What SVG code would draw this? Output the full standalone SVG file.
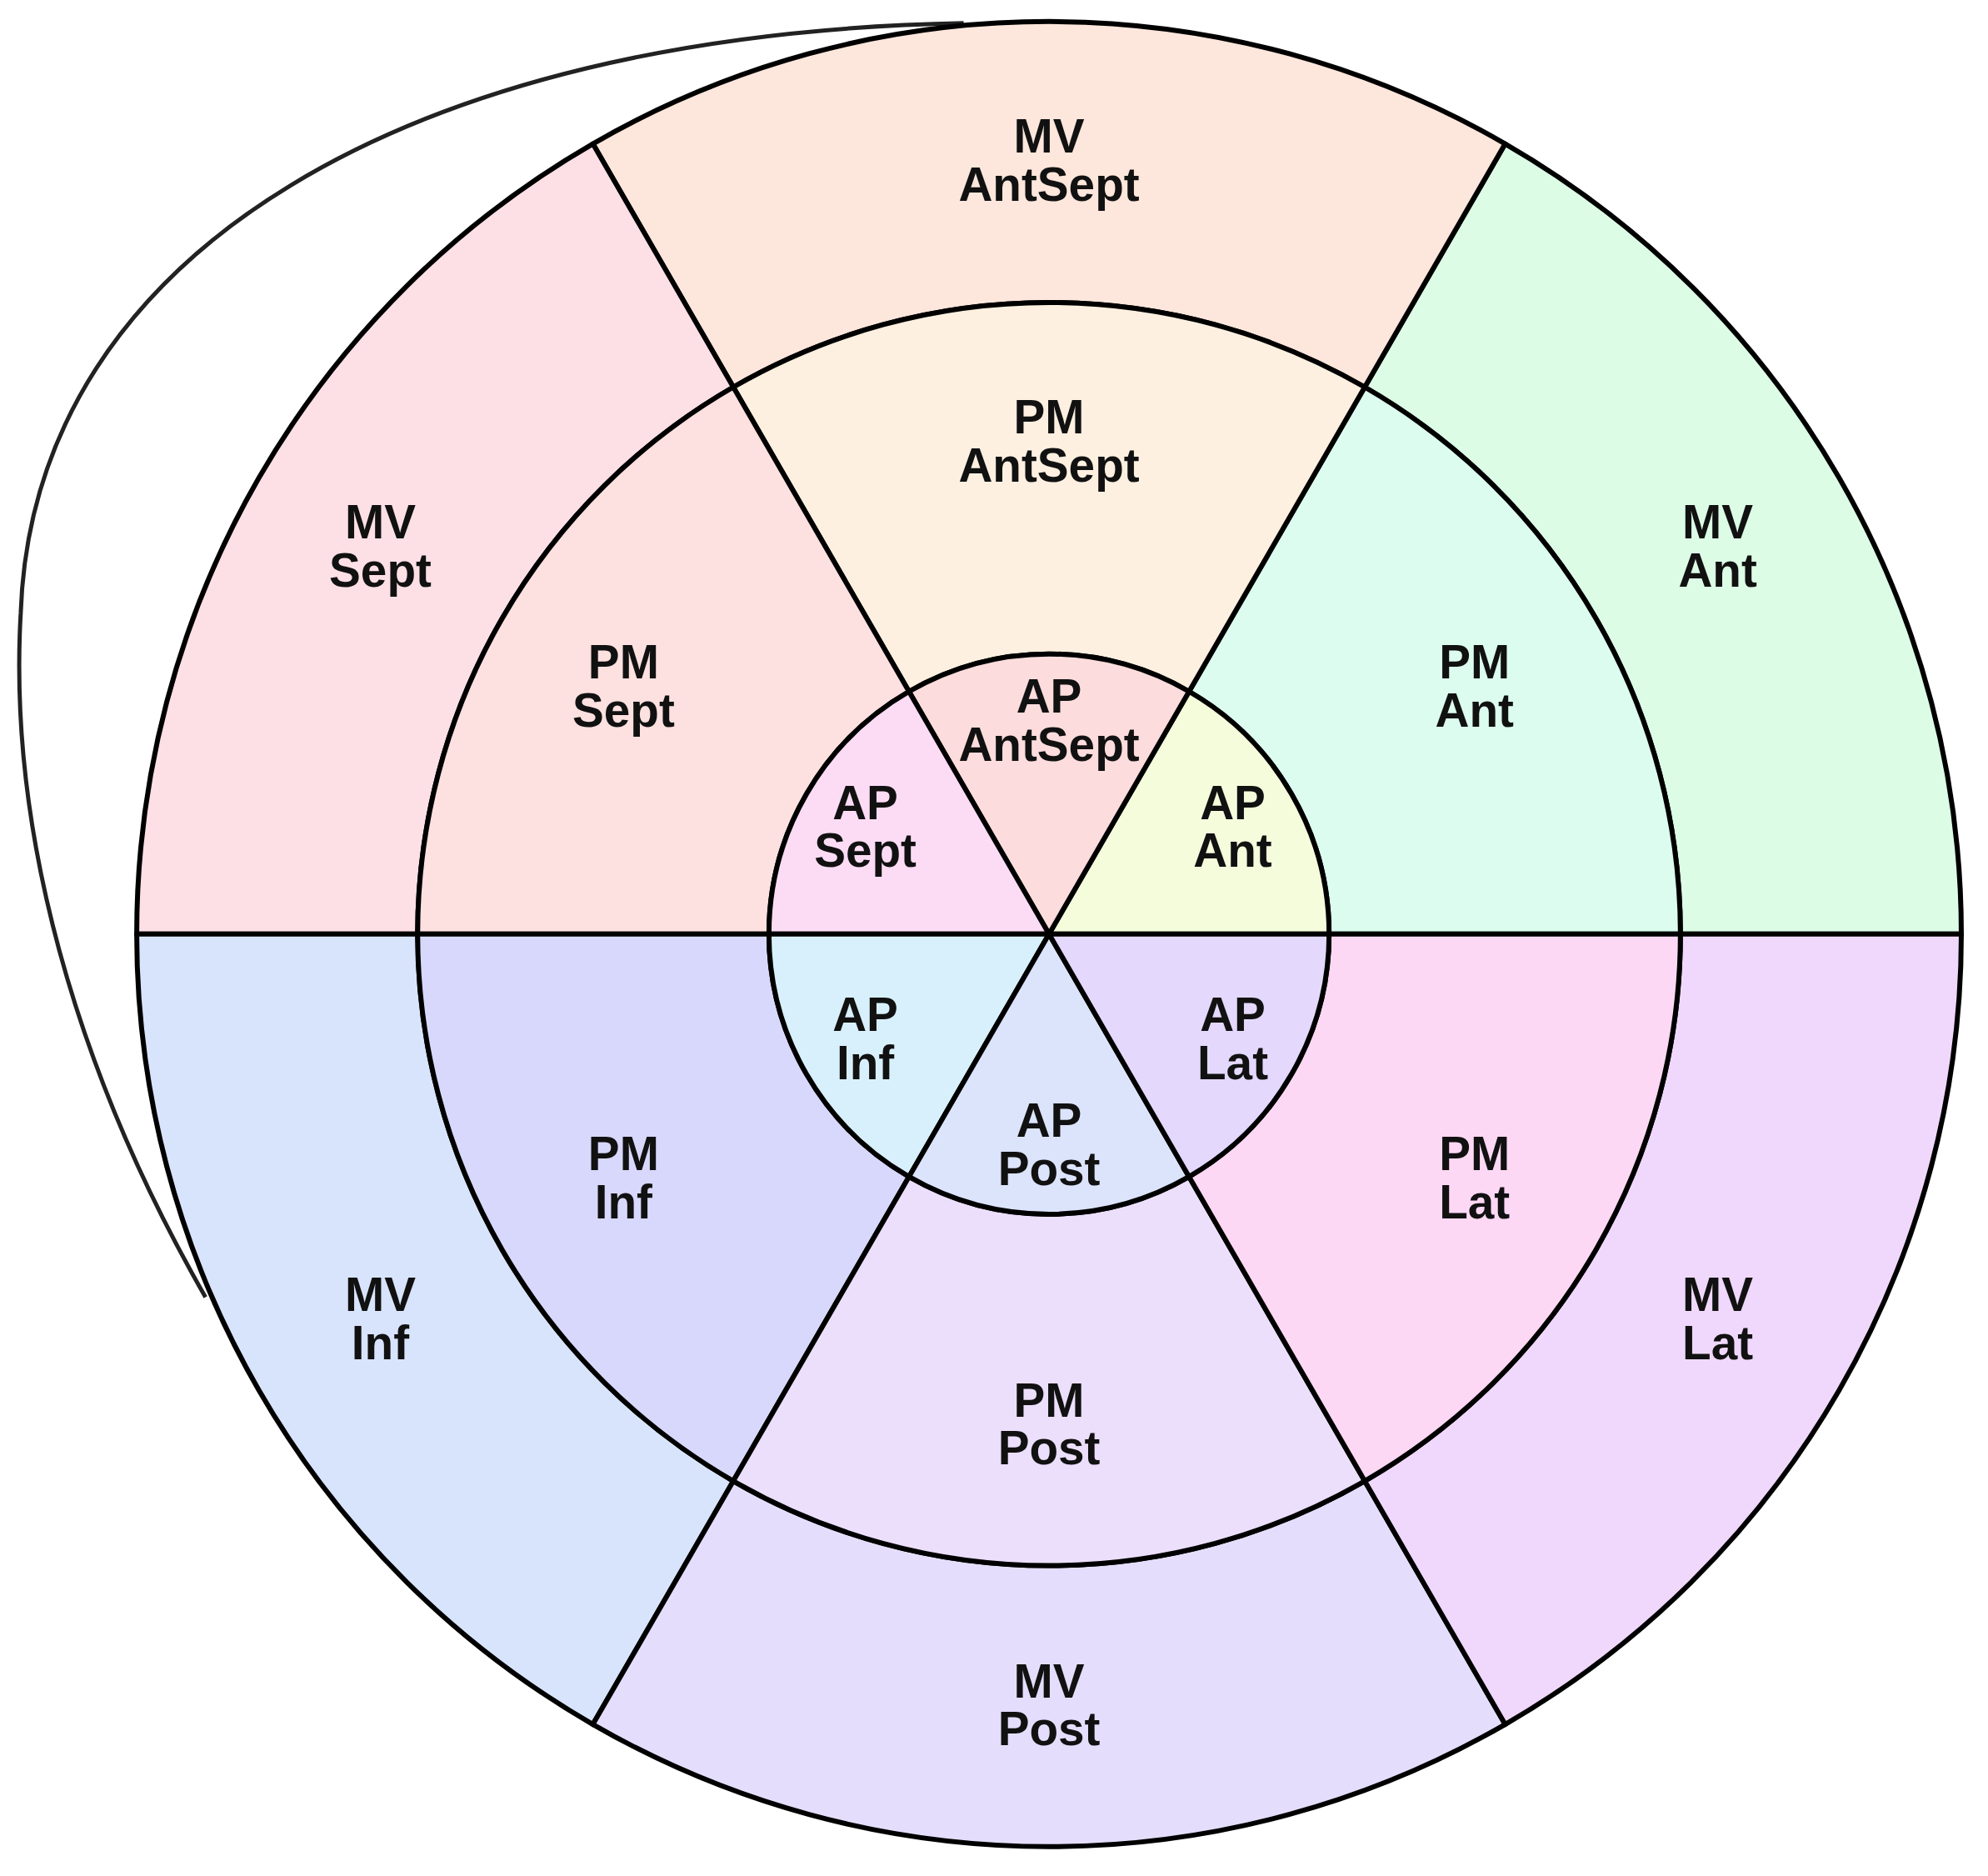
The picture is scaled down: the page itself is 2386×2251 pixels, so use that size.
<svg xmlns="http://www.w3.org/2000/svg" width="2386" height="2251" viewBox="0 0 2386 2251">
<style>
.s{stroke:#000;stroke-width:6;stroke-linejoin:round}
text{font-family:"Liberation Sans",Arial,sans-serif;font-weight:bold;font-size:57px;text-anchor:middle;fill:#111}
</style>
<rect width="2386" height="2251" fill="#fff"/>
<g transform="scale(0.9945)">
<g id="connectors">
<path d="M 248 1565 C 90 1290, 10 1000, 25 740 C 40 300, 500 40, 1163 28" fill="none" stroke="#222" stroke-width="5"/>
</g>
<g id="mv-ant"><path class="s" fill="#dcfce6" d="M2367 1127 A1101 1101 0 0 0 1816.5 173.5 L1647 467.1 A762 762 0 0 1 2028 1127 Z"/><text x="2073" y="650">MV<tspan x="2073" dy="58">Ant</tspan></text></g>
<g id="mv-antsept"><path class="s" fill="#fde6dc" d="M1816.5 173.5 A1101 1101 0 0 0 715.5 173.5 L885 467.1 A762 762 0 0 1 1647 467.1 Z"/><text x="1266" y="184">MV<tspan x="1266" dy="58">AntSept</tspan></text></g>
<g id="mv-sept"><path class="s" fill="#fde0e6" d="M715.5 173.5 A1101 1101 0 0 0 165 1127 L504 1127 A762 762 0 0 1 885 467.1 Z"/><text x="459" y="650">MV<tspan x="459" dy="58">Sept</tspan></text></g>
<g id="mv-inf"><path class="s" fill="#d8e4fc" d="M165 1127 A1101 1101 0 0 0 715.5 2080.5 L885 1786.9 A762 762 0 0 1 504 1127 Z"/><text x="459" y="1582">MV<tspan x="459" dy="58">Inf</tspan></text></g>
<g id="mv-post"><path class="s" fill="#e4defc" d="M715.5 2080.5 A1101 1101 0 0 0 1816.5 2080.5 L1647 1786.9 A762 762 0 0 1 885 1786.9 Z"/><text x="1266" y="2048">MV<tspan x="1266" dy="58">Post</tspan></text></g>
<g id="mv-lat"><path class="s" fill="#f0d8fc" d="M1816.5 2080.5 A1101 1101 0 0 0 2367 1127 L2028 1127 A762 762 0 0 1 1647 1786.9 Z"/><text x="2073" y="1582">MV<tspan x="2073" dy="58">Lat</tspan></text></g>
<g id="pm-ant"><path class="s" fill="#dcfcef" d="M2028 1127 A762 762 0 0 0 1647 467.1 L1435 834.3 A338 338 0 0 1 1604 1127 Z"/><text x="1779.5" y="819">PM<tspan x="1779.5" dy="58">Ant</tspan></text></g>
<g id="pm-antsept"><path class="s" fill="#fdf0e0" d="M1647 467.1 A762 762 0 0 0 885 467.1 L1097 834.3 A338 338 0 0 1 1435 834.3 Z"/><text x="1266" y="523">PM<tspan x="1266" dy="58">AntSept</tspan></text></g>
<g id="pm-sept"><path class="s" fill="#fde0e0" d="M885 467.1 A762 762 0 0 0 504 1127 L928 1127 A338 338 0 0 1 1097 834.3 Z"/><text x="752.5" y="819">PM<tspan x="752.5" dy="58">Sept</tspan></text></g>
<g id="pm-inf"><path class="s" fill="#d8d8fc" d="M504 1127 A762 762 0 0 0 885 1786.9 L1097 1419.7 A338 338 0 0 1 928 1127 Z"/><text x="752.5" y="1412">PM<tspan x="752.5" dy="58">Inf</tspan></text></g>
<g id="pm-post"><path class="s" fill="#ecdffc" d="M885 1786.9 A762 762 0 0 0 1647 1786.9 L1435 1419.7 A338 338 0 0 1 1097 1419.7 Z"/><text x="1266" y="1709">PM<tspan x="1266" dy="58">Post</tspan></text></g>
<g id="pm-lat"><path class="s" fill="#fdd8f4" d="M1647 1786.9 A762 762 0 0 0 2028 1127 L1604 1127 A338 338 0 0 1 1435 1419.7 Z"/><text x="1779.5" y="1412">PM<tspan x="1779.5" dy="58">Lat</tspan></text></g>
<g id="ap-ant"><path class="s" fill="#f4fcdc" d="M1266 1127 L1604 1127 A338 338 0 0 0 1435 834.3 Z"/><text x="1487.7" y="988">AP<tspan x="1487.7" dy="58">Ant</tspan></text></g>
<g id="ap-antsept"><path class="s" fill="#fcdcdc" d="M1266 1127 L1435 834.3 A338 338 0 0 0 1097 834.3 Z"/><text x="1266" y="860">AP<tspan x="1266" dy="58">AntSept</tspan></text></g>
<g id="ap-sept"><path class="s" fill="#fcdcf4" d="M1266 1127 L1097 834.3 A338 338 0 0 0 928 1127 Z"/><text x="1044.3" y="988">AP<tspan x="1044.3" dy="58">Sept</tspan></text></g>
<g id="ap-inf"><path class="s" fill="#d8f0fc" d="M1266 1127 L928 1127 A338 338 0 0 0 1097 1419.7 Z"/><text x="1044.3" y="1244">AP<tspan x="1044.3" dy="58">Inf</tspan></text></g>
<g id="ap-post"><path class="s" fill="#dce4fc" d="M1266 1127 L1097 1419.7 A338 338 0 0 0 1435 1419.7 Z"/><text x="1266" y="1372">AP<tspan x="1266" dy="58">Post</tspan></text></g>
<g id="ap-lat"><path class="s" fill="#e4d8fc" d="M1266 1127 L1435 1419.7 A338 338 0 0 0 1604 1127 Z"/><text x="1487.7" y="1244">AP<tspan x="1487.7" dy="58">Lat</tspan></text></g>
</g>
</svg>
